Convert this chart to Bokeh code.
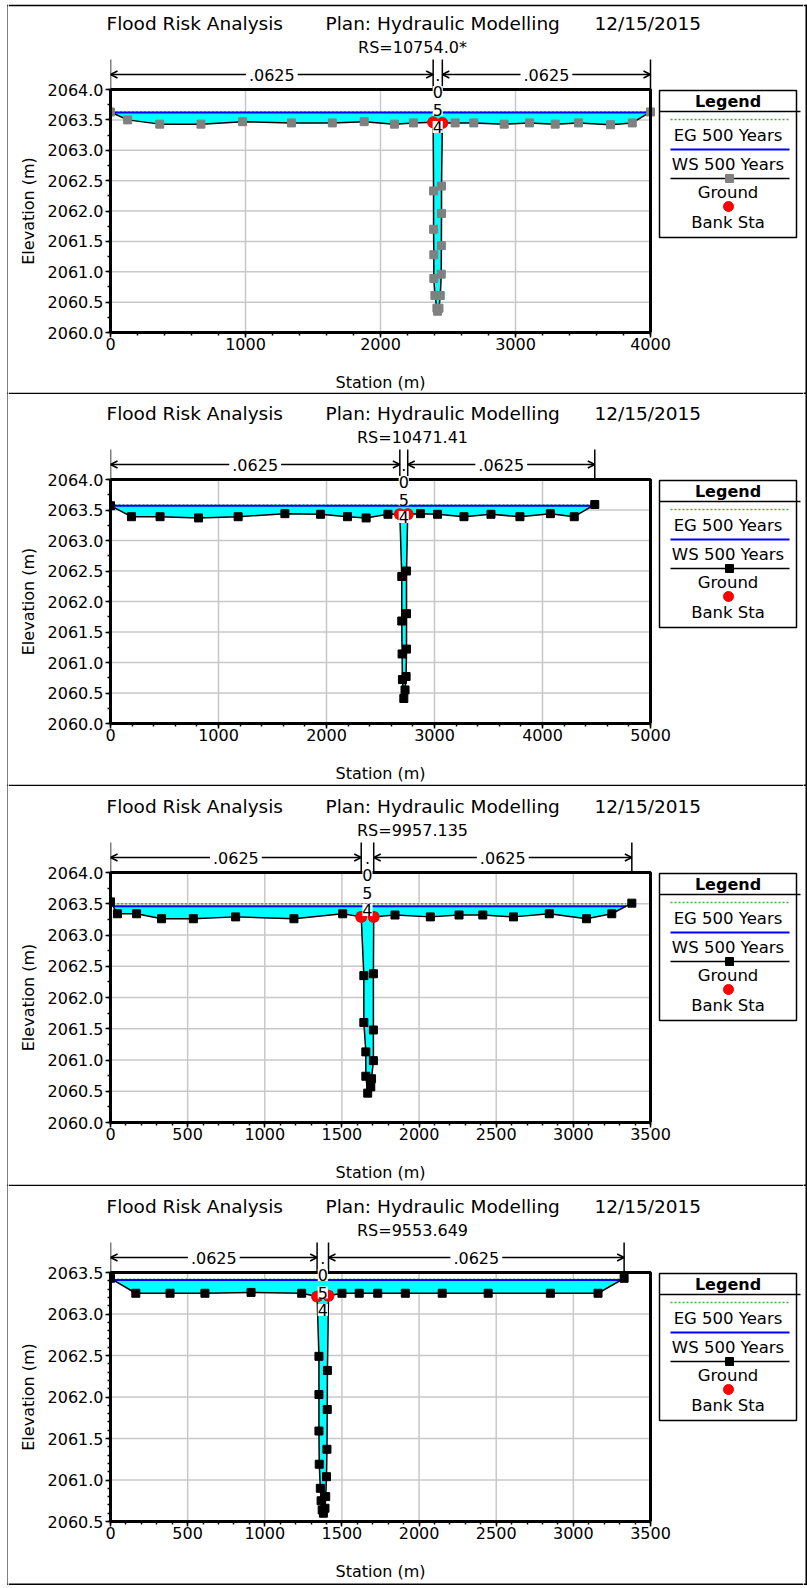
import numpy as np
from bokeh.plotting import figure
from bokeh.models import Range1d, FixedTicker, PrintfTickFormatter, Label, Arrow, OpenHead
from bokeh.layouts import column, row
from bokeh.embed import file_html
from bokeh.resources import INLINE

# ---------------- data ----------------
TITLE_LEFT = "Flood Risk Analysis"
TITLE_MID = "Plan: Hydraulic Modelling"
TITLE_DATE = "12/15/2015"
X_LABEL = "Station (m)"
Y_LABEL = "Elevation (m)"
N_OVERBANK = ".0625"
N_CHANNEL = ".054"
LEGEND_TITLE = "Legend"
LEGEND_ITEMS = ["EG 500 Years", "WS 500 Years", "Ground", "Bank Sta"]

RS_1 = "RS=10754.0*"
STATION_1 = [0, 127, 365, 670, 979, 1341, 1643, 1879, 2103, 2244,
             2390, 2393, 2393, 2395, 2395, 2403, 2418, 2423, 2433, 2443,
             2450, 2451, 2452, 2452, 2458, 2553, 2691, 2916, 3104, 3294,
             3466, 3704, 3865, 4000]
ELEV_1 = [2063.63, 2063.50, 2063.43, 2063.43, 2063.47, 2063.45, 2063.45, 2063.47, 2063.43, 2063.45,
          2063.46, 2062.33, 2061.70, 2061.28, 2060.89, 2060.61, 2060.40, 2060.35, 2060.40, 2060.61,
          2060.96, 2061.43, 2061.96, 2062.41, 2063.45, 2063.45, 2063.45, 2063.43, 2063.45, 2063.43,
          2063.45, 2063.42, 2063.45, 2063.63]
WS_1 = 2063.62
EG_1 = 2063.63
BANKS_1 = [2390, 2458]
X_TICKS_1 = [0, 1000, 2000, 3000, 4000]
X_MINOR_1 = list(range(0, 4001, 200))
Y_TICKS_1 = [2060.0, 2060.5, 2061.0, 2061.5, 2062.0, 2062.5, 2063.0, 2063.5, 2064.0]
Y_MINOR_1 = [2060 + 0.25 * i for i in range(17)]

RS_2 = "RS=10471.41"
STATION_2 = [0, 194, 459, 815, 1182, 1615, 1945, 2194, 2367, 2569,
             2679, 2697, 2697, 2700, 2703, 2716, 2727, 2737, 2741, 2741,
             2741, 2752, 2870, 3028, 3273, 3523, 3791, 4073, 4294, 4484]
ELEV_2 = [2063.57, 2063.39, 2063.39, 2063.37, 2063.39, 2063.44, 2063.43, 2063.39, 2063.37, 2063.43,
          2063.43, 2062.41, 2061.68, 2061.14, 2060.72, 2060.41, 2060.55, 2060.77, 2061.22, 2061.80,
          2062.50, 2063.43, 2063.44, 2063.43, 2063.39, 2063.43, 2063.39, 2063.44, 2063.39, 2063.59]
WS_2 = 2063.57
EG_2 = 2063.58
BANKS_2 = [2679, 2752]
X_TICKS_2 = [0, 1000, 2000, 3000, 4000, 5000]
X_MINOR_2 = list(range(0, 5001, 200))
Y_TICKS_2 = Y_TICKS_1
Y_MINOR_2 = Y_MINOR_1

RS_3 = "RS=9957.135"
STATION_3 = [0, 45, 169, 331, 537, 811, 1189, 1505, 1625, 1642,
             1642, 1655, 1655, 1667, 1687, 1692, 1704, 1704, 1704, 1706,
             1844, 2073, 2259, 2413, 2612, 2844, 3085, 3249, 3379]
ELEV_3 = [2063.53, 2063.34, 2063.34, 2063.26, 2063.26, 2063.29, 2063.26, 2063.34, 2063.29, 2062.35,
          2061.60, 2061.13, 2060.74, 2060.47, 2060.57, 2060.70, 2060.99, 2061.48, 2062.38, 2063.29,
          2063.32, 2063.29, 2063.32, 2063.32, 2063.29, 2063.34, 2063.26, 2063.34, 2063.51]
WS_3 = 2063.46
EG_3 = 2063.50
BANKS_3 = [1625, 1706]
X_TICKS_3 = [0, 500, 1000, 1500, 2000, 2500, 3000, 3500]
X_MINOR_3 = list(range(0, 3501, 100))
Y_TICKS_3 = Y_TICKS_1
Y_MINOR_3 = Y_MINOR_1

RS_4 = "RS=9553.649"
STATION_4 = [0, 164, 386, 612, 911, 1239, 1339, 1351, 1351, 1351,
             1353, 1360, 1365, 1372, 1380, 1390, 1395, 1400, 1403, 1405,
             1406, 1413, 1500, 1612, 1732, 1911, 2150, 2448, 2851, 3160,
             3329]
ELEV_4 = [2063.43, 2063.25, 2063.25, 2063.25, 2063.26, 2063.25, 2063.21, 2062.49, 2062.03, 2061.59,
          2061.19, 2060.90, 2060.75, 2060.64, 2060.60, 2060.66, 2060.80, 2061.04, 2061.37, 2061.85,
          2062.32, 2063.22, 2063.25, 2063.25, 2063.25, 2063.25, 2063.25, 2063.25, 2063.25, 2063.25,
          2063.43]
WS_4 = 2063.41
EG_4 = 2063.42
BANKS_4 = [1339, 1413]
X_TICKS_4 = X_TICKS_3
X_MINOR_4 = X_MINOR_3
Y_TICKS_4 = [2060.5, 2061.0, 2061.5, 2062.0, 2062.5, 2063.0, 2063.5]
Y_MINOR_4 = [round(2060.5 + 0.1 * i, 2) for i in range(31)]

# ---------------- layout / style ----------------
FONT = "DejaVu Sans"
W = 807
FL, FR = 110, 650          # plot frame left / right (page px)
PX0, PX1 = 8, 803          # panel content x extent (inside border figures)
LEFT_R = 42                # right edge of y-label strip
MAIN_R = PX1               # right end of main figure
EG_COLOR = "#3CB043"
WS_COLOR = "#0000FF"
FILL_COLOR = "#00FFFF"
BANK_COLOR = "#FF0000"
PANEL_H = [392, 392, 400, 399]
PANEL_FT = [89, 87, 88, 88]
PANEL_FB = [60, 61, 62, 62]
TOTAL_H = sum(PANEL_H) + 2
# legend row offsets below the plot top (px)
LG = dict(title=11.5, sep=22, eg_line=30, eg_text=45.5, ws_line=60, ws_text=74.5,
          gr_line=89, gr_text=103, dot=117, bank_text=133, bottom=148)


def blank(width, height, x0, x1, ytop, ybot, bottom_border=0):
    p = figure(width=width, height=height, x_range=Range1d(x0, x1), y_range=Range1d(ybot, ytop),
               x_axis_type=None, y_axis_type=None, output_backend="svg", toolbar_location=None,
               min_border_left=0, min_border_right=0, min_border_top=0,
               min_border_bottom=bottom_border)
    p.outline_line_color = None
    p.background_fill_color = "white"
    p.border_fill_color = "white"
    return p


def label(p, text, x, y, size="16px", align="center", bold=False, angle=0.0, bg=None, pad=0,
          xr="default", yr="default"):
    kw = dict(x=x, y=y, text=text, x_range_name=xr, y_range_name=yr, text_font=FONT,
              text_font_size=size, text_align=align, text_baseline="middle", text_color="black",
              angle=angle)
    if bold:
        kw["text_font_style"] = "bold"
    if bg:
        kw.update(background_fill_color=bg, padding=pad)
    p.add_layout(Label(**kw))


def hline(p, y, x0, x1, width=1.5):
    p.segment(x0=[x0], y0=[y], x1=[x1], y1=[y], line_color="black", line_width=width)


def build_panel(st, el, ws, eg, banks, rs, xt, xm, yt, ym, mcol, H, FT, FBm, btop, last):
    FH = H - FT - FBm
    S = FT - 32                 # top strip height
    B = 32                      # bottom border of main figure (tick labels)
    YB = FT + FH + B
    HB = H - YB + (2 if last else 0)
    MH = YB - S
    xmin, xmax = xt[0], xt[-1]
    ymin, ymax = yt[0], yt[-1]
    kx = (xmax - xmin) / (FR - FL)
    ky = (ymax - ymin) / FH

    # ---- top strip: titles + top border ----
    top = blank(PX1 - PX0, S, PX0, PX1, 0, S)
    hline(top, btop, PX0, PX1)
    label(top, TITLE_LEFT, 106, FT - 66, size="18.5px", align="left")
    label(top, TITLE_MID, 325, FT - 66, size="18.5px", align="left")
    label(top, TITLE_DATE, 594, FT - 66, size="18.5px", align="left")
    label(top, rs, 412, FT - 42, size="16px")

    # ---- y axis title strip (same frame as the plot) ----
    left = blank(LEFT_R - PX0, MH, PX0, LEFT_R, S, FT + FH, bottom_border=B)
    label(left, Y_LABEL, 28, FT + FH / 2, size="16px", angle=np.pi / 2)

    # ---- bottom strip: x axis title ----
    bot = blank(PX1 - PX0, HB, PX0, PX1, YB, YB + HB)
    label(bot, X_LABEL, (FL + FR) / 2, FT + FH + 50, size="16px")
    if last:
        hline(bot, H + 0.75, PX0, PX1)

    # ---- main plot ----
    p = figure(width=MAIN_R - LEFT_R, height=MH,
               x_range=Range1d(xmin, xmin + (MAIN_R - FL) * kx),
               y_range=Range1d(ymin, ymax + (FT - S) * ky),
               output_backend="svg", toolbar_location=None,
               min_border_left=FL - LEFT_R, min_border_right=0, min_border_top=0, min_border_bottom=B)
    p.outline_line_color = None
    p.background_fill_color = "white"
    p.border_fill_color = "white"
    p.extra_x_ranges = {"px": Range1d(FL, MAIN_R)}
    p.extra_y_ranges = {"py": Range1d(FT + FH, S)}
    p.xgrid.visible = False
    p.ygrid.visible = False

    for ax, ticks, minors, fmt, bnd in ((p.xaxis[0], xt, xm, "%d", (xmin, xmax)),
                                        (p.yaxis[0], yt, ym, "%.1f", (ymin, ymax))):
        ax.ticker = FixedTicker(ticks=ticks, minor_ticks=minors)
        ax.formatter = PrintfTickFormatter(format=fmt)
        ax.bounds = bnd
        ax.major_label_text_font = FONT
        ax.major_label_text_font_size = "16px"
        ax.major_label_text_color = "black"
        ax.axis_line_width = 3
        ax.axis_line_color = "black"
        ax.major_tick_line_color = "black"
        ax.major_tick_line_width = 1.5
        ax.major_tick_in = 0
        ax.major_tick_out = 5
        ax.minor_tick_line_color = "black"
        ax.minor_tick_line_width = 1.5
        ax.minor_tick_in = 0
        ax.minor_tick_out = 3
    p.xaxis.major_label_standoff = 0
    p.yaxis.major_label_standoff = 2

    # grid lines at the tick values
    p.segment(x0=xt, y0=[ymin] * len(xt), x1=xt, y1=[ymax] * len(xt),
              line_color="#C8C8C8", line_width=1.5, level="underlay")
    p.segment(x0=[xmin] * len(yt), y0=yt, x1=[xmax] * len(yt), y1=yt,
              line_color="#C8C8C8", line_width=1.5, level="underlay")

    # wetted area
    sa = np.asarray(st, float)
    ea = np.asarray(el, float)
    wet = np.where(ea < ws)[0]
    i0, i1 = wet[0], wet[-1]
    xl = sa[0] if i0 == 0 else float(np.interp(ws, [ea[i0], ea[i0 - 1]], [sa[i0], sa[i0 - 1]]))
    xr = sa[-1] if i1 == len(sa) - 1 else float(np.interp(ws, [ea[i1], ea[i1 + 1]], [sa[i1], sa[i1 + 1]]))
    fx = [xl] + list(sa[i0:i1 + 1]) + [xr]
    fy = [ws] + list(ea[i0:i1 + 1]) + [ws]
    p.patch(fx, fy, fill_color=FILL_COLOR, line_color=None)
    p.line([xl, xr], [eg, eg], line_color=EG_COLOR, line_width=1.5, line_dash="2 2")
    p.line([xl, xr], [ws, ws], line_color=WS_COLOR, line_width=2)
    p.line(st, el, line_color="black", line_width=1.5)
    p.scatter(st, el, marker="square", size=8, fill_color=mcol, line_color=mcol)
    bank_el = [el[st.index(b)] for b in banks]
    p.scatter(banks, bank_el, marker="circle", size=11, fill_color=BANK_COLOR, line_color=BANK_COLOR)

    # plot frame
    p.quad(left=[xmin], right=[xmax], bottom=[ymin], top=[ymax], fill_color=None,
           line_color="black", line_width=3)

    # Manning's n markers
    xs4 = [st[0], banks[0], banks[1], st[-1]]
    p.segment(x0=xs4, y0=[FT] * 4, x1=xs4, y1=[FT - 30] * 4, y_range_name="py",
              line_color="black", line_width=1.5)
    for a, b in ((st[0], banks[0]), (banks[1], st[-1])):
        p.add_layout(Arrow(x_start=a, x_end=b, y_start=FT - 15, y_end=FT - 15, y_range_name="py",
                           line_color="black", line_width=1.5,
                           start=OpenHead(size=7, line_width=1.5, line_color="black"),
                           end=OpenHead(size=7, line_width=1.5, line_color="black")))
        label(p, N_OVERBANK, (a + b) / 2, FT - 15, bg="white", pad=3, yr="py")
    for k, ch in enumerate(N_CHANNEL):
        label(p, ch, (banks[0] + banks[1]) / 2, FT - 15 + 17.5 * k, bg="white", pad=0, yr="py")

    # legend (drawn in page pixels)
    L = dict(x_range_name="px", y_range_name="py")
    p.quad(left=[659], right=[796], top=[FT + 1], bottom=[FT + LG["bottom"]], fill_color="white",
           line_color="black", line_width=1.5, **L)
    label(p, LEGEND_TITLE, 727.5, FT + LG["title"], size="16px", bold=True, xr="px", yr="py")
    p.segment(x0=[659], y0=[FT + LG["sep"]], x1=[800], y1=[FT + LG["sep"]],
              line_color="black", line_width=1.5, **L)
    p.segment(x0=[670], y0=[FT + LG["eg_line"]], x1=[789], y1=[FT + LG["eg_line"]],
              line_color=EG_COLOR, line_width=1.5, line_dash="2 2", **L)
    label(p, LEGEND_ITEMS[0], 727.5, FT + LG["eg_text"], size="16.5px", xr="px", yr="py")
    p.segment(x0=[670], y0=[FT + LG["ws_line"]], x1=[789], y1=[FT + LG["ws_line"]],
              line_color=WS_COLOR, line_width=2, **L)
    label(p, LEGEND_ITEMS[1], 727.5, FT + LG["ws_text"], size="16.5px", xr="px", yr="py")
    p.segment(x0=[670], y0=[FT + LG["gr_line"]], x1=[789], y1=[FT + LG["gr_line"]],
              line_color="black", line_width=1.5, **L)
    p.scatter(x=[729], y=[FT + LG["gr_line"]], marker="square", size=8, fill_color=mcol,
              line_color=mcol, **L)
    label(p, LEGEND_ITEMS[2], 727.5, FT + LG["gr_text"], size="16.5px", xr="px", yr="py")
    p.scatter(x=[728], y=[FT + LG["dot"]], marker="circle", size=10, fill_color=BANK_COLOR,
              line_color=BANK_COLOR, **L)
    label(p, LEGEND_ITEMS[3], 727.5, FT + LG["bank_text"], size="16.5px", xr="px", yr="py")

    return column(top, row(left, p), bot)


panels = [
    build_panel(STATION_1, ELEV_1, WS_1, EG_1, BANKS_1, RS_1, X_TICKS_1, X_MINOR_1, Y_TICKS_1, Y_MINOR_1,
                "#808080", PANEL_H[0], PANEL_FT[0], PANEL_FB[0], 5, False),
    build_panel(STATION_2, ELEV_2, WS_2, EG_2, BANKS_2, RS_2, X_TICKS_2, X_MINOR_2, Y_TICKS_2, Y_MINOR_2,
                "black", PANEL_H[1], PANEL_FT[1], PANEL_FB[1], 0.75, False),
    build_panel(STATION_3, ELEV_3, WS_3, EG_3, BANKS_3, RS_3, X_TICKS_3, X_MINOR_3, Y_TICKS_3, Y_MINOR_3,
                "black", PANEL_H[2], PANEL_FT[2], PANEL_FB[2], 0.75, False),
    build_panel(STATION_4, ELEV_4, WS_4, EG_4, BANKS_4, RS_4, X_TICKS_4, X_MINOR_4, Y_TICKS_4, Y_MINOR_4,
                "black", PANEL_H[3], PANEL_FT[3], PANEL_FB[3], 0.75, True),
]

# outer border pieces (left / right of the stacked panels)
bounds_y = [5] + [sum(PANEL_H[:i]) + 0.75 for i in range(1, 4)] + [sum(PANEL_H) + 0.75]
lb = blank(PX0, TOTAL_H, 0, PX0, 0, TOTAL_H)
lb.segment(x0=[7.75], y0=[4.25], x1=[7.75], y1=[bounds_y[-1] + 0.75], line_color="black", line_width=1.5)
lb.segment(x0=[7] * len(bounds_y), y0=bounds_y, x1=[PX0] * len(bounds_y), y1=bounds_y,
           line_color="black", line_width=1.5)
rb = blank(W - PX1, TOTAL_H, PX1, W, 0, TOTAL_H)
rb.segment(x0=[805.75], y0=[4.25], x1=[805.75], y1=[bounds_y[-1] + 0.75], line_color="black", line_width=1.5)
rb.segment(x0=[PX1] * len(bounds_y), y0=bounds_y, x1=[806.5] * len(bounds_y), y1=bounds_y,
           line_color="black", line_width=1.5)

layout = row(lb, column(*panels), rb)
open("out.html", "w").write(file_html(layout, INLINE))
